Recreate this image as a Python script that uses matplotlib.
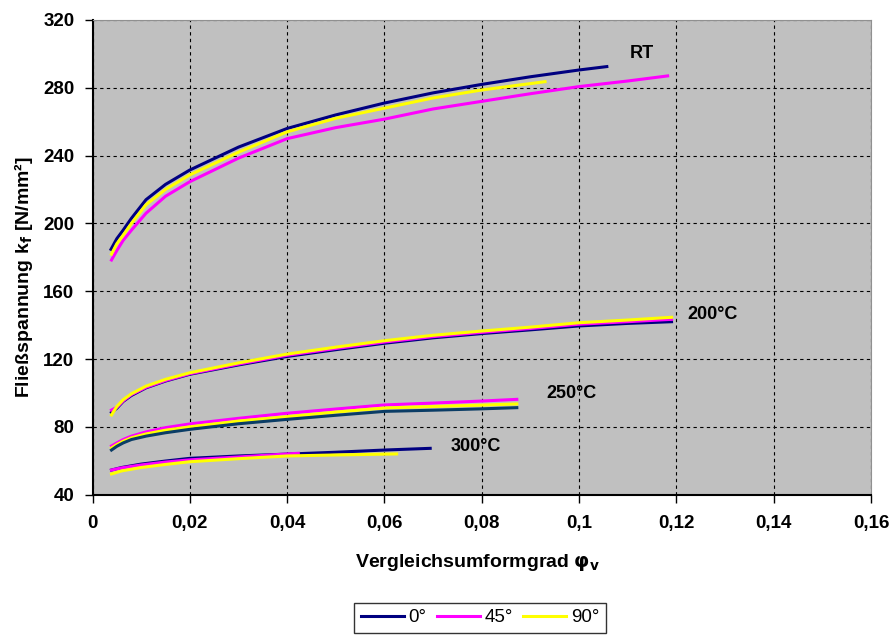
import matplotlib.pyplot as plt
import numpy as np

plt.rcParams['font.family'] = ['Liberation Sans', 'DejaVu Sans']

# RT
rt_x0 = [0.0038, 0.005, 0.0063, 0.008, 0.011, 0.015, 0.02, 0.03, 0.04, 0.05, 0.06, 0.07, 0.08, 0.09, 0.1, 0.1057]
rt_y0 = [184.7, 191, 196, 203, 214, 223, 231.5, 245, 256, 264, 271, 277, 282, 286.5, 290.5, 292.5]
rt_x45 = [0.0039, 0.005, 0.0063, 0.008, 0.011, 0.015, 0.02, 0.03, 0.04, 0.05, 0.06, 0.07, 0.08, 0.09, 0.1, 0.11, 0.1182]
rt_y45 = [178.4, 184, 190, 196, 206, 216, 224.6, 238.5, 250, 256.5, 261.5, 267.5, 272, 276.5, 280.7, 284, 287]
rt_x90 = [0.0039, 0.005, 0.0063, 0.008, 0.011, 0.015, 0.02, 0.03, 0.04, 0.05, 0.06, 0.07, 0.08, 0.093]
rt_y90 = [181.9, 188, 193, 200, 211, 220, 228.6, 242, 254, 262, 268, 274, 278.7, 283.6]

# 200 °C
t200_x = [0.0039, 0.005, 0.0063, 0.008, 0.011, 0.015, 0.02, 0.03, 0.04, 0.05, 0.06, 0.07, 0.08, 0.09, 0.1, 0.11, 0.119]
t200_y0 = [88.5, 91, 95, 98.5, 103, 107, 111, 116.5, 121.5, 125.5, 129.3, 132.5, 135, 137.2, 139.5, 141, 142]
t200_y45 = [89.9, 91.5, 95.3, 99, 103.3, 107.3, 111.3, 117, 122.2, 126.2, 130, 133.2, 135.7, 138, 140.5, 142, 143.4]
t200_y90 = [87, 92, 96, 99.5, 104, 108, 111.9, 117.7, 122.9, 127, 130.8, 134, 136.5, 138.8, 141.4, 143, 144.6]

# 250 °C
t250_x = [0.0039, 0.005, 0.0063, 0.008, 0.011, 0.015, 0.02, 0.03, 0.04, 0.05, 0.06, 0.07, 0.08, 0.0872]
t250_y0 = [66.3, 68.5, 70.5, 72.5, 74.5, 76.5, 78.5, 81.8, 84.4, 86.8, 89.1, 89.8, 90.6, 91.3]
t250_y45 = [68.7, 70.5, 72.5, 74.5, 77, 79.5, 81.7, 85, 88, 90.5, 92.9, 94, 95.2, 96.2]
t250_y90 = [67.5, 69.5, 71.5, 73.5, 75.8, 78, 80, 83.4, 86, 88.7, 91.1, 92, 92.8, 93.5]

# 300 °C
t300_x0 = [0.0039, 0.006, 0.01, 0.015, 0.02, 0.03, 0.04, 0.05, 0.06, 0.0694]
t300_y0 = [54.5, 56, 58, 59.8, 61.4, 62.8, 63.9, 65, 66.3, 67.3]
t300_x45 = [0.0039, 0.006, 0.01, 0.015, 0.02, 0.03, 0.0423]
t300_y45 = [54.5, 55.8, 57.5, 59.2, 60.5, 62.2, 64.4]
t300_x90 = [0.0039, 0.006, 0.01, 0.015, 0.02, 0.03, 0.04, 0.05, 0.0625]
t300_y90 = [52.2, 54, 56, 57.8, 59.4, 61.2, 62.8, 63.4, 64]

xtick_labels = ['0', '0,02', '0,04', '0,06', '0,08', '0,1', '0,12', '0,14', '0,16']

fig = plt.figure(figsize=(8.93, 6.36), dpi=100)
ax = fig.add_axes([0.1036, 0.2223, 0.8718, 0.7463])
ax.set_facecolor('#C0C0C0')

navy = '#000080'
mag = '#FF00FF'
yel = '#FFFF00'
lw = 2.2

l0, = ax.plot(rt_x0, rt_y0, color=navy, lw=lw)
l45, = ax.plot(rt_x45, rt_y45, color=mag, lw=lw)
l90, = ax.plot(rt_x90, rt_y90, color=yel, lw=lw)
ax.plot(t200_x, t200_y0, color=navy, lw=lw)
ax.plot(t200_x, t200_y45, color=mag, lw=lw)
ax.plot(t200_x, t200_y90, color=yel, lw=lw)
ax.plot(t250_x, t250_y45, color=mag, lw=lw)
ax.plot(t250_x, t250_y90, color=yel, lw=lw)
ax.plot(t250_x, t250_y0, color='#0B3D66', lw=lw)
ax.plot(t300_x0, t300_y0, color=navy, lw=lw)
ax.plot(t300_x45, t300_y45, color=mag, lw=lw)
ax.plot(t300_x90, t300_y90, color=yel, lw=lw)

ax.set_xlim(0, 0.16)
ax.set_ylim(40, 320)
ax.set_xticks(np.arange(0, 0.161, 0.02))
ax.set_xticklabels(xtick_labels)
ax.set_yticks(np.arange(40, 321, 40))
ax.tick_params(labelsize=13.5, direction='out', length=6, width=1)
ax.tick_params(axis='x', pad=9)
ax.tick_params(axis='y', pad=7)
for t in ax.get_xticklabels() + ax.get_yticklabels():
    t.set_fontweight('bold')
ax.grid(True, color='black', linestyle=(0, (3, 3)), linewidth=0.8)
ax.set_axisbelow(True)
for s in ['top', 'right']:
    ax.spines[s].set_color('#909090')
    ax.spines[s].set_linewidth(0.8)
for s in ['left', 'bottom']:
    ax.spines[s].set_linewidth(1.5)

ax.set_xlabel('Vergleichsumformgrad $\\mathbf{\\varphi_v}$', fontsize=14, fontweight='bold')
ax.set_ylabel('Fließspannung k$_\\mathbf{f}$ [N/mm²]', fontsize=14, fontweight='bold')
ax.xaxis.set_label_coords(0.494, -0.142)
ax.xaxis.label.set_va('center')
ax.yaxis.set_label_coords(-0.089, 0.457)
ax.yaxis.label.set_va('center')

ax.text(0.113, 300.3, 'RT', fontsize=13, fontweight='bold', ha='center', va='center')
ax.text(0.1275, 146.5, '200°C', fontsize=13, fontweight='bold', ha='center', va='center')
ax.text(0.0985, 99.8, '250°C', fontsize=13, fontweight='bold', ha='center', va='center')
ax.text(0.0788, 68.3, '300°C', fontsize=13, fontweight='bold', ha='center', va='center')

fig.legend([l0, l45, l90], ['0°', '45°', '90°'], loc='upper center', bbox_to_anchor=(0.5375, 0.0524),
           ncol=3, fontsize=13.5, frameon=True, fancybox=False, edgecolor='black',
           handlelength=2.3, handletextpad=0.25, columnspacing=0.55, borderpad=0.35,
           borderaxespad=0)

fig.savefig('out.png', dpi=100)
